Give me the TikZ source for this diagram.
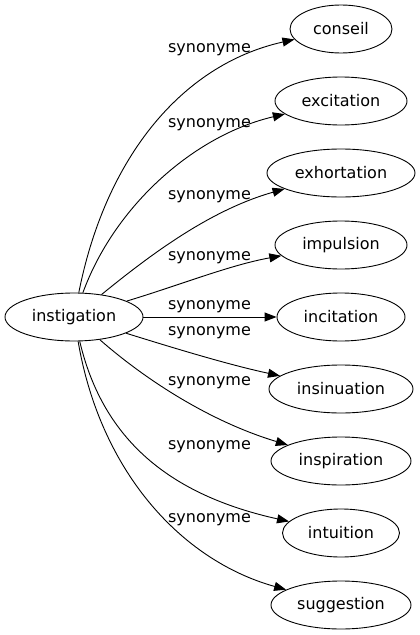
\documentclass[tikz,border=0pt]{standalone}
\usepackage{fontspec}
\setmainfont{DejaVu Sans}
\usetikzlibrary{arrows.meta,shapes.geometric}
\begin{document}
\begin{tikzpicture}[x=1pt,y=-1pt,
  word/.style={ellipse,draw,line width=0.9pt,inner sep=0pt,minimum height=48pt,font=\fontsize{16}{19}\selectfont},
  lab/.style={inner sep=0pt,font=\fontsize{16}{19}\selectfont},
  link/.style={line width=0.9pt,-{Triangle[length=12pt,width=9pt]}}]
\useasboundingbox (0,0) rectangle (420,635);
\node[word,minimum width=138pt] (i) at (74,317) {instigation};
\node[word,minimum width=102pt] (a) at (341,29) {conseil};
\node[word,minimum width=132pt] (b) at (341,101) {excitation};
\node[word,minimum width=148pt] (c) at (341,173) {exhortation};
\node[word,minimum width=132pt] (d) at (341,245) {impulsion};
\node[word,minimum width=128pt] (e) at (341,317) {incitation};
\node[word,minimum width=144pt] (f) at (341,389) {insinuation};
\node[word,minimum width=140pt] (g) at (341,461) {inspiration};
\node[word,minimum width=117pt] (h) at (341,533) {intuition};
\node[word,minimum width=140pt] (k) at (341,605) {suggestion};
\draw[link] (i) .. controls (105,160) and (180,65) .. (a);
\draw[link] (i) .. controls (115,205) and (195,135) .. (b);
\draw[link] (i) .. controls (150,255) and (210,210) .. (c);
\draw[link] (i) .. controls (180,285) and (230,265) .. (d);
\draw[link] (i) -- (e);
\draw[link] (i) .. controls (180,350) and (230,365) .. (f);
\draw[link] (i) .. controls (140,375) and (205,420) .. (g);
\draw[link] (i) .. controls (103,440) and (170,495) .. (h);
\draw[link] (i) .. controls (100,470) and (180,560) .. (k);
\node[lab] (l1) at (209.5,50) {synonyme};
\node[lab] (l2) at (209.5,125) {synonyme};
\node[lab] (l3) at (209.5,197) {synonyme};
\node[lab] (l4) at (209.5,258) {synonyme};
\node[lab] (l5) at (209.5,307) {synonyme};
\node[lab] (l6) at (209.5,333) {synonyme};
\node[lab] (l7) at (209.5,383) {synonyme};
\node[lab] (l8) at (209.5,447) {synonyme};
\node[lab] (l9) at (209.5,520) {synonyme};
\end{tikzpicture}
\end{document}
